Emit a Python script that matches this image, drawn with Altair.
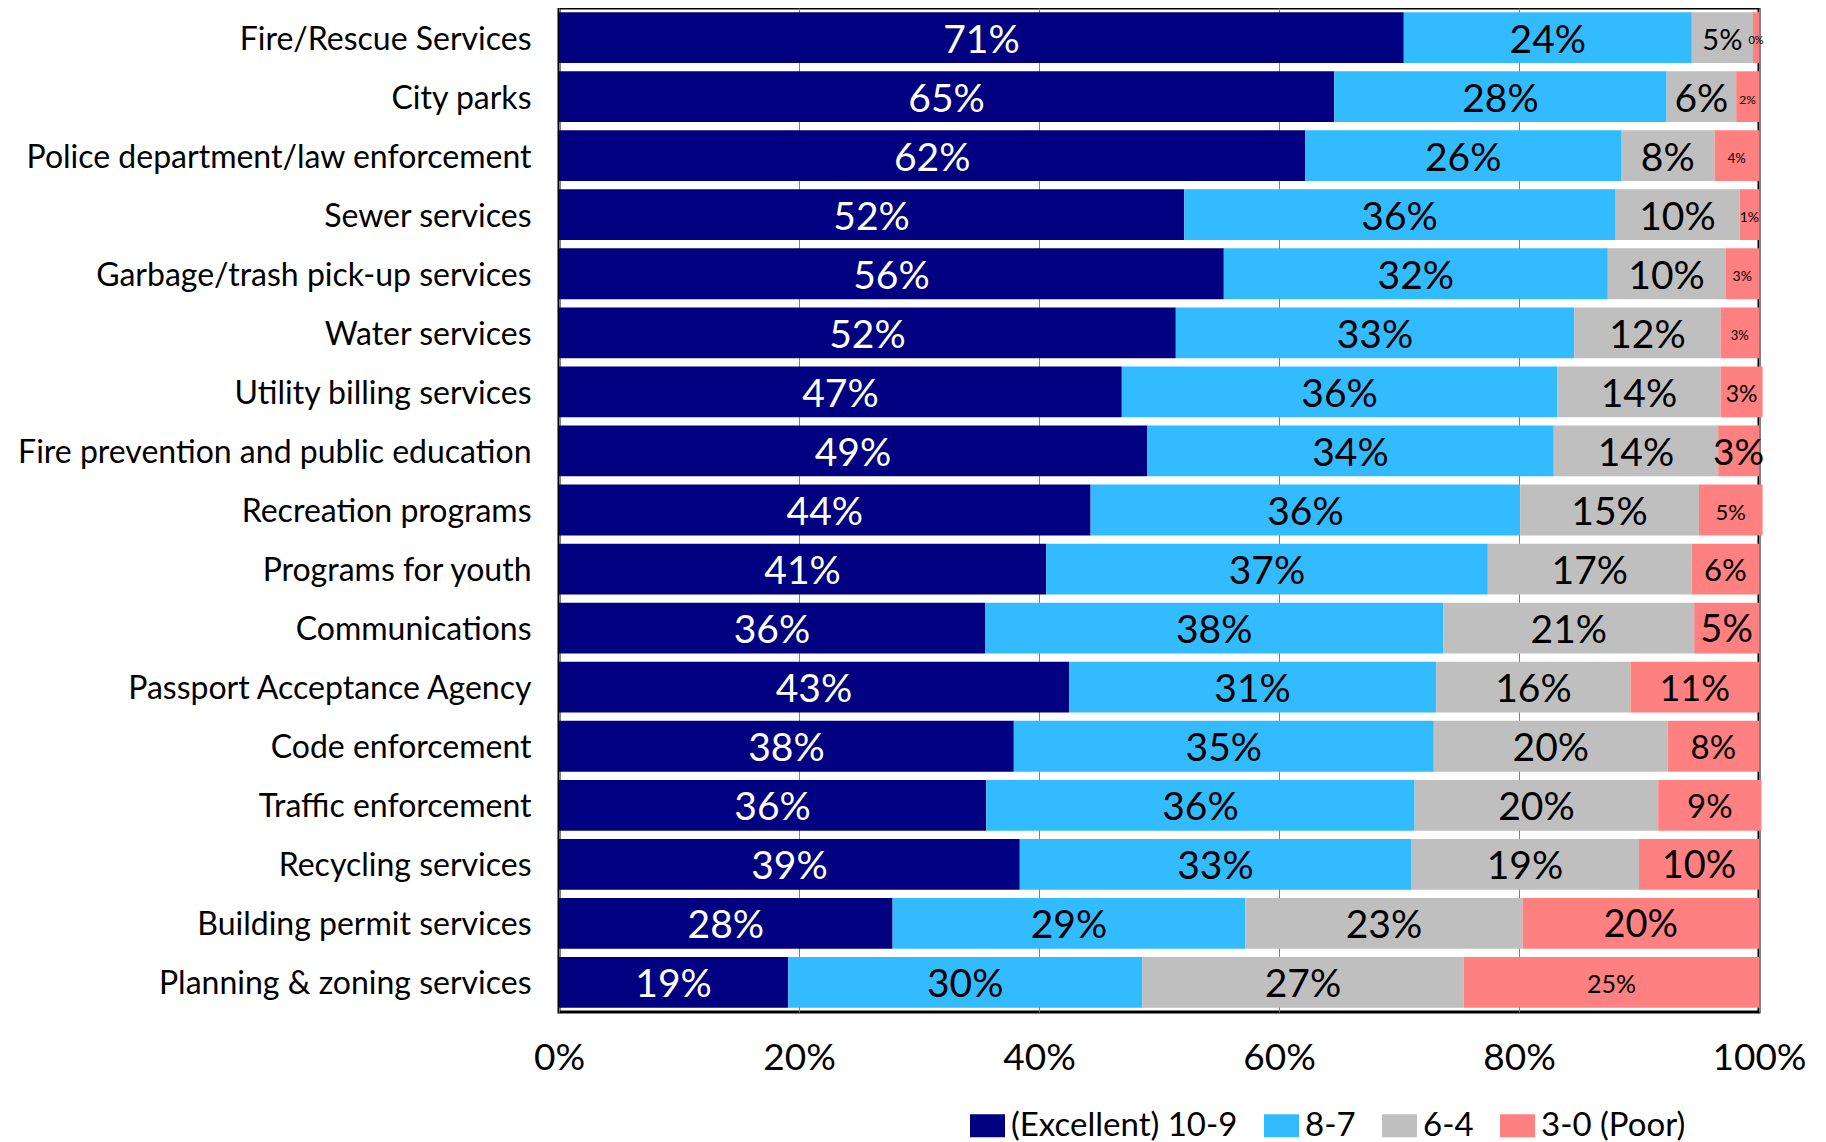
import altair as alt
import pandas as pd

categories = [
    "Fire/Rescue Services", "City parks", "Police department/law enforcement",
    "Sewer services", "Garbage/trash pick-up services", "Water services",
    "Utility billing services", "Fire prevention and public education",
    "Recreation programs", "Programs for youth", "Communications",
    "Passport Acceptance Agency", "Code enforcement", "Traffic enforcement",
    "Recycling services", "Building permit services", "Planning & zoning services",
]
series_names = ["(Excellent) 10-9", "8-7", "6-4", "3-0 (Poor)"]
series_colors = ["#000080", "#33BBFF", "#BFBFBF", "#FF8080"]

excellent = [70.4, 64.6, 62.2, 52.1, 55.4, 51.4, 46.9, 49.0, 44.3, 40.6, 35.5, 42.5, 37.9, 35.6, 38.4, 27.8, 19.1]
good = [24.0, 27.7, 26.3, 35.9, 32.0, 33.2, 36.3, 33.9, 35.8, 36.8, 38.2, 30.6, 35.0, 35.7, 32.6, 29.4, 29.5]
fair = [5.1, 5.8, 7.8, 10.4, 9.8, 12.2, 13.6, 13.7, 14.9, 17.0, 20.9, 16.2, 19.5, 20.3, 19.0, 23.1, 26.8]
poor = [0.5, 1.9, 3.7, 1.6, 2.8, 3.2, 3.5, 3.4, 5.3, 5.6, 5.4, 10.7, 7.6, 8.6, 10.0, 19.7, 24.6]

excellent_labels = ["71%", "65%", "62%", "52%", "56%", "52%", "47%", "49%", "44%", "41%", "36%", "43%", "38%", "36%", "39%", "28%", "19%"]
good_labels = ["24%", "28%", "26%", "36%", "32%", "33%", "36%", "34%", "36%", "37%", "38%", "31%", "35%", "36%", "33%", "29%", "30%"]
fair_labels = ["5%", "6%", "8%", "10%", "10%", "12%", "14%", "14%", "15%", "17%", "21%", "16%", "20%", "20%", "19%", "23%", "27%"]
poor_labels = ["0%", "2%", "4%", "1%", "3%", "3%", "3%", "3%", "5%", "6%", "5%", "11%", "8%", "9%", "10%", "20%", "25%"]

# label font sizes (style)
BIG = 39
poor_label_sizes = [11, 12, 13, 14, 14, 13, 23, 37, 22, 31, 38, 36, 33, 33, 38, 38, 25]
fair_label_sizes = [29] + [BIG] * 16

series_values = [excellent, good, fair, poor]
series_labels = [excellent_labels, good_labels, fair_labels, poor_labels]
series_sizes = [[BIG] * 17, [BIG] * 17, fair_label_sizes, poor_label_sizes]

rows = []
for i, cat in enumerate(categories):
    start = 0.0
    for s, name in enumerate(series_names):
        v = series_values[s][i]
        rows.append({
            "cat": cat, "series": name,
            "start": start / 100, "end": (start + v) / 100,
            "mid": (start + v / 2) / 100,
            "label": series_labels[s][i], "fs": series_sizes[s][i],
        })
        start += v
df = pd.DataFrame(rows)

y_enc = alt.Y(
    "cat:N", sort=categories, title=None,
    scale=alt.Scale(paddingInner=0.14, paddingOuter=0.07),
    axis=alt.Axis(labelFontSize=32, labelFont="Lato", labelColor="black",
                  ticks=False, domain=False, labelPadding=28, labelLimit=0,
                  labelOffset=2, grid=False),
)

base = alt.Chart(df)

bars = base.mark_bar(strokeWidth=0).encode(
    y=y_enc,
    x=alt.X("start:Q", title=None,
            scale=alt.Scale(domain=[0, 1], nice=False, zero=True),
            axis=alt.Axis(format=".0%", values=[0, 0.2, 0.4, 0.6, 0.8, 1.0],
                          labelFontSize=37, labelFont="Lato", labelColor="black",
                          labelFlush=False, ticks=False, tickSize=0, domain=False,
                          labelPadding=28, grid=True, gridColor="#808080", gridWidth=1)),
    x2="end:Q",
    color=alt.Color(
        "series:N",
        scale=alt.Scale(domain=series_names, range=series_colors),
        legend=alt.Legend(
            title=None, orient="none", legendX=411, legendY=1100,
            direction="horizontal", labelFontSize=33, labelFont="Lato",
            labelColor="black", symbolType="M-1,-0.657L1,-0.657L1,0.657L-1,0.657Z",
            symbolSize=1225, symbolStrokeWidth=0, symbolOpacity=1,
            columnPadding=26, labelOffset=6, padding=0, labelLimit=0,
        ),
    ),
)

texts = base.mark_text(font="Lato", align="center", baseline="middle", dy=3).encode(
    y=alt.Y("cat:N", sort=categories),
    x=alt.X("mid:Q"),
    text="label:N",
    size=alt.Size("fs:Q", scale=None, legend=None),
    color=alt.condition(alt.datum.series == series_names[0], alt.value("white"), alt.value("black")),
)

chart = alt.layer(bars, texts).properties(
    width=1200, height=1004,
    autosize=alt.AutoSizeParams(type="none"),
    padding={"left": 551, "top": 0, "right": 59, "bottom": 130},
).configure(font="Lato").configure_view(stroke="black", strokeWidth=3)

chart.save("out.html", embed_options={"renderer": "svg", "actions": False})
